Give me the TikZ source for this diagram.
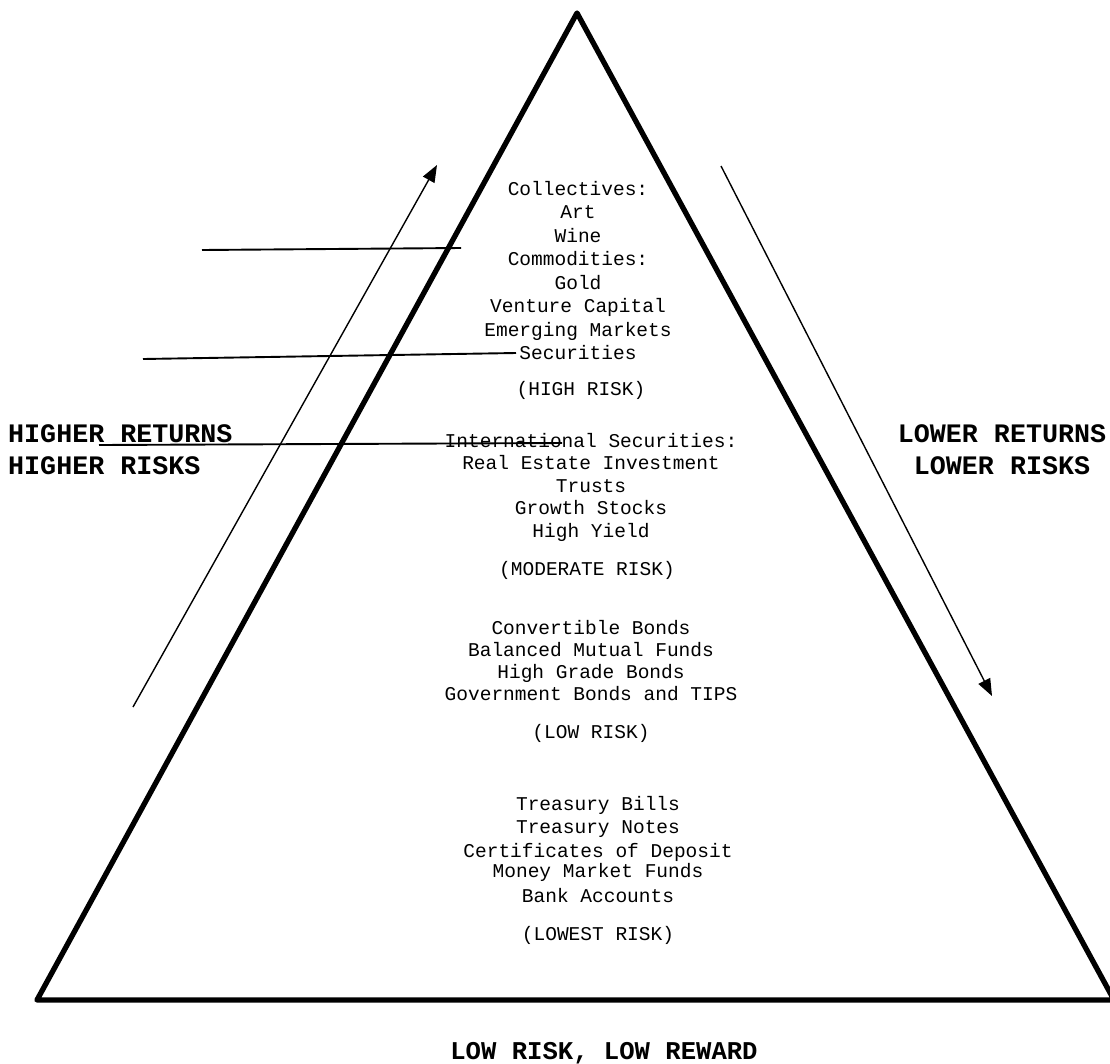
\documentclass[tikz,border=0pt]{standalone}
\usepackage{fontspec}
\newfontfamily\monof{Liberation Mono}
\usetikzlibrary{arrows.meta}
\begin{document}
\begin{tikzpicture}[x=1pt,y=-1pt,
  item/.style={font=\monof\fontsize{19.5}{23}\selectfont,anchor=base,inner sep=0pt},
  headl/.style={font=\monof\bfseries\fontsize{26.7}{30}\selectfont,anchor=base,inner sep=0pt},
  headb/.style={font=\monof\bfseries\fontsize{25.6}{30}\selectfont,anchor=base,inner sep=0pt},
  edge/.style={line width=5.3pt,line join=round,line cap=round},
  leader/.style={line width=1.9pt},
  trend/.style={line width=1.4pt,-{Triangle[length=17pt,width=13pt]}}]
\useasboundingbox (0,0) rectangle (1110,1063);
% pyramid
\coordinate (apex) at (577,13);
\coordinate (bl) at (37,1000);
\coordinate (br) at (1114,1000);
\draw[edge] (bl) -- (apex) -- (br) -- cycle;
% block 1
\node[item] (a1) at (578,195) {Collectives:};
\node[item] (a2) at (578,218.5) {Art};
\node[item] (a3) at (578,242) {Wine};
\node[item] (a4) at (578,265.5) {Commodities:};
\node[item] (a5) at (578,289) {Gold};
\node[item] (a6) at (578,312.5) {Venture Capital};
\node[item] (a7) at (578,336) {Emerging Markets};
\node[item] (a8) at (578,359.5) {Securities};
\node[item] (a9) at (581,395) {(HIGH RISK)};
% block 2
\node[item] (b1) at (591,447) {International Securities:};
\node[item] (b2) at (591,469.5) {Real Estate Investment};
\node[item] (b3) at (591,492) {Trusts};
\node[item] (b4) at (591,514.5) {Growth Stocks};
\node[item] (b5) at (591,537) {High Yield};
\node[item] (b6) at (587,575) {(MODERATE RISK)};
% block 3
\node[item] (c1) at (591,634) {Convertible Bonds};
\node[item] (c2) at (591,656) {Balanced Mutual Funds};
\node[item] (c3) at (591,678.5) {High Grade Bonds};
\node[item] (c4) at (591,700.5) {Government Bonds and TIPS};
\node[item] (c5) at (591,738) {(LOW RISK)};
% block 4
\node[item] (d1) at (598,810) {Treasury Bills};
\node[item] (d2) at (598,833) {Treasury Notes};
\node[item] (d3) at (598,857) {Certificates of Deposit};
\node[item] (d4) at (598,877.5) {Money Market Funds};
\node[item] (d5) at (598,902) {Bank Accounts};
\node[item] (d6) at (598,940) {(LOWEST RISK)};
% side headings
\node[headl,anchor=base west] (hl1) at (8,442) {HIGHER RETURNS};
\node[headl,anchor=base west] (hl2) at (8,474) {HIGHER RISKS};
\node[headl] (hr1) at (1002,442) {LOWER RETURNS};
\node[headl] (hr2) at (1002,474) {LOWER RISKS};
\node[headb] (bot) at (604,1059) {LOW RISK, LOW REWARD};
% leader lines
\coordinate (l1a) at (202,250);
\coordinate (l1b) at (461,248);
\coordinate (l2a) at (143,359);
\coordinate (l2b) at (516,353);
\coordinate (l3a) at (99,445);
\coordinate (l3b) at (562,443);
\draw[leader] (l1a) -- (l1b);
\draw[leader] (l2a) -- (l2b);
\draw[leader] (l3a) -- (l3b);
% trend arrows
\coordinate (u0) at (133,707);
\coordinate (u1) at (437,165);
\coordinate (v0) at (721,166);
\coordinate (v1) at (992,696);
\draw[trend] (u0) -- (u1);
\draw[trend] (v0) -- (v1);
\end{tikzpicture}
\end{document}
